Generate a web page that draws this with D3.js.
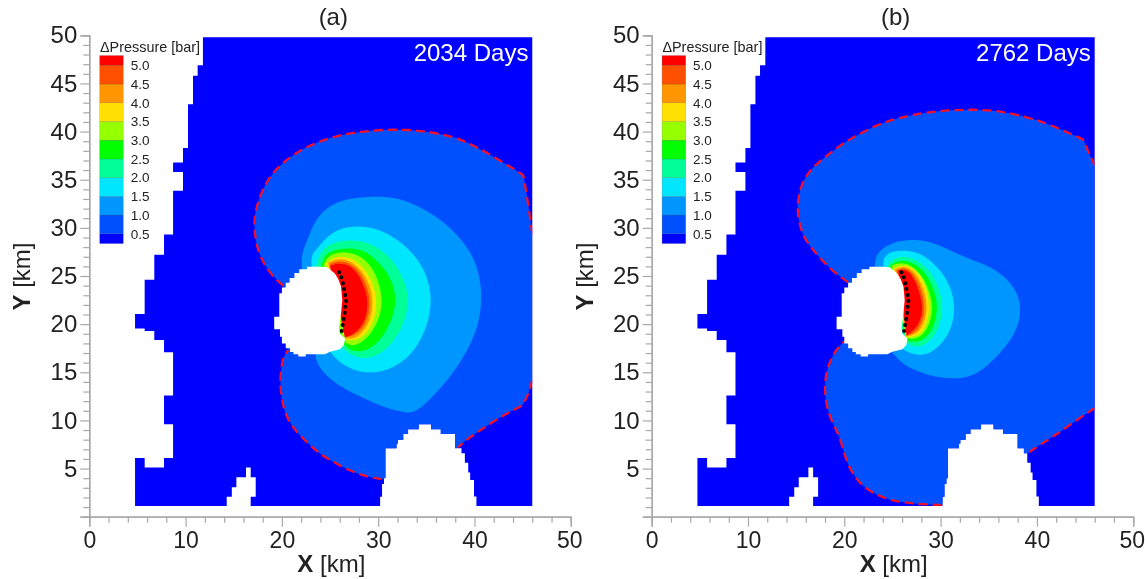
<!DOCTYPE html>
<html>
<head>
<meta charset="utf-8">
<script src="https://d3js.org/d3.v7.min.js"></script>
<style>
html, body { margin: 0; padding: 0; background: #fff; }
svg { display: block; filter: blur(0.35px); }
text { font-family: "Liberation Sans", Arial, sans-serif; fill: #222; }
</style>
</head>
<body>
<div class="chart"></div>
<script>
// all outlines are in km

const colorLevels = [0.5, 1.0, 1.5, 2.0, 2.5, 3.0, 3.5, 4.0, 4.5, 5.0];
const bandColors = ["#0000ff", "#0050ff", "#0096ff", "#00e6ff", "#00ff96", "#00ff00", "#96ff00", "#ffe000", "#ff9600", "#ff5000", "#ff0000"];
const legendLabels = ["0.5", "1.0", "1.5", "2.0", "2.5", "3.0", "3.5", "4.0", "4.5", "5.0"];
const legendExtent = [0.24, 5.26];

const panelTitles = ["(a)", "(b)"];
const dayLabels = ["2034 Days", "2762 Days"];
const xMajor = [0, 10, 20, 30, 40, 50];
const xMinor = [2, 4, 6, 8, 12, 14, 16, 18, 22, 24, 26, 28, 32, 34, 36, 38, 42, 44, 46, 48];
const yMajor = [0, 5, 10, 15, 20, 25, 30, 35, 40, 45, 50];
const yMinor = [1, 2, 3, 4, 6, 7, 8, 9, 11, 12, 13, 14, 16, 17, 18, 19, 21, 22, 23, 24, 26, 27, 28, 29, 31, 32, 33, 34, 36, 37, 38, 39, 41, 42, 43, 44, 46, 47, 48, 49];

// reservoir outline, same for both panels
const domainOutline = [[11.8,49.8],[11.8,46.9],[11.25,46.9],[11.25,45.8],[10.77,45.8],[10.77,42.85],[10.25,42.85],[10.25,38.3],[9.73,38.3],[9.73,36.8],[8.7,36.8],[8.7,35.8],[9.73,35.8],[9.73,33.85],[8.7,33.85],[8.7,29.3],[7.76,29.3],[7.76,27.2],[6.75,27.2],[6.75,24.6],[5.75,24.6],[5.75,21.05],[4.75,21.05],[4.75,19.55],[5.75,19.55],[5.75,19.3],[6.75,19.3],[6.75,18.35],[7.76,18.35],[7.76,17.07],[8.7,17.07],[8.7,12.6],[7.76,12.6],[7.76,9.6],[8.7,9.6],[8.7,6.1],[7.76,6.1],[7.76,5.1],[5.75,5.1],[5.75,6.1],[4.75,6.1],[4.75,1.1],[14.27,1.1],[14.27,2.08],[14.8,2.08],[14.8,3.05],[15.27,3.05],[15.27,4.1],[16.27,4.1],[16.27,5.1],[16.76,5.1],[16.76,4.1],[17.28,4.1],[17.28,2.08],[16.76,2.08],[16.76,1.1],[30.2,1.1],[30.2,2.08],[30.4,2.08],[30.4,3.4],[30.6,3.4],[30.6,4.0],[30.75,4.0],[30.75,7.1],[31.9,7.1],[31.9,7.6],[32.05,7.6],[32.05,8.0],[32.6,8.0],[32.6,8.6],[33.1,8.6],[33.1,9.07],[34.2,9.07],[34.2,9.6],[35.5,9.6],[35.5,9.07],[36.5,9.07],[36.5,8.6],[38.0,8.6],[38.0,7.1],[38.65,7.1],[38.65,6.6],[39.0,6.6],[39.0,5.6],[39.35,5.6],[39.35,4.6],[39.55,4.6],[39.55,3.8],[39.95,3.8],[39.95,2.1],[40.2,2.1],[40.2,1.1],[46,1.1],[46,49.8]];

const holeOutline = [[24.72,25.9],[25.5,25.27],[25.86,24.65],[26.14,23.9],[26.27,22.5],[26.14,21.1],[25.96,19.73],[26.03,19.04],[26.55,18.5],[26.45,17.83],[26.03,17.38],[25.0,17.14],[24.47,16.87],[22.47,16.87],[22.47,16.63],[21.7,16.63],[21.7,16.87],[21.2,16.87],[21.2,17.1],[20.84,17.1],[20.84,17.5],[20.4,17.5],[20.4,18.0],[20.0,18.0],[20.0,18.7],[19.8,18.7],[19.8,19.46],[19.2,19.46],[19.2,20.77],[19.73,20.77],[19.73,23.2],[20.0,23.2],[20.0,23.8],[20.4,23.8],[20.4,24.3],[20.8,24.3],[20.8,24.8],[21.3,24.8],[21.3,25.3],[21.8,25.3],[21.8,25.7],[22.6,25.7],[22.6,25.96],[23.96,25.96]];

const wellPoints = [[25.93,25.38],[26.17,24.86],[26.34,24.24],[26.45,23.64],[26.58,23.02],[26.66,22.4],[26.58,21.8],[26.52,21.18],[26.42,20.53],[26.31,19.9],[26.21,19.28]];

// panel (a): 0.5 bar front in pieces, cut by the hole and the southern hill
const aFrontUpper = [[20.15,23.99],[19.46,24.58],[18.76,25.34],[18.0,26.48],[17.38,28.04],[17.14,29.77],[17.14,31.15],[17.55,32.89],[18.24,34.44],[19.1,35.83],[20.5,37.1],[22.2,38.26],[24.3,39.12],[26.03,39.64],[28.1,39.98],[30.5,40.2],[32.96,40.2],[35.4,39.98],[37.8,39.46],[39.9,38.6],[42.3,37.2],[45.07,35.5],[45.07,35.5],[45.4,33.6],[45.76,31.15],[46,29.4]];
const aFrontRight = [[46,14.2],[45.6,12.64],[44.9,11.5],[44.9,11.5],[43,10.56],[40.9,9.18],[39.2,8.04],[38.3,7.2]];
const aFrontLower = [[30.36,3.9],[29.15,4.09],[27.77,4.5],[26.38,5.1],[25.0,5.9],[23.96,6.5],[22.75,7.6],[21.7,8.6],[20.84,9.7],[20.2,11.08],[19.9,12.8],[19.8,14.2],[20.0,15.9],[20.15,16.6],[20.66,17.3]];

const aLevel10 = [[22.05,25.96],[22.05,27.35],[22.58,28.56],[23.09,29.95],[23.96,31.5],[25.34,32.54],[27.07,33.07],[29.5,33.3],[31.9,33.17],[34.0,32.37],[36.07,31.15],[37.8,29.77],[39.53,27.7],[40.4,25.6],[40.8,23.2],[40.57,20.4],[39.53,17.65],[37.8,14.9],[35.7,12.46],[34.0,10.9],[32.96,10.74],[30.88,11.26],[28.45,12.3],[26.38,13.33],[24.65,14.54],[23.6,15.93],[23.44,16.97]];
const aLevel15 = [[23.09,25.96],[22.99,27.17],[23.78,27.97],[24.65,29.08],[26.03,29.95],[27.77,30.22],[29.84,29.95],[31.92,28.9],[33.65,27.35],[34.86,25.6],[35.55,23.2],[35.38,20.77],[34.5,18.35],[32.96,16.27],[30.88,15.16],[29.15,14.9],[27.4,15.2],[25.86,16.1],[25.0,17.14]];
const aLevel20 = [[23.54,25.96],[23.96,27.5],[25.0,28.4],[27.07,28.8],[29.15,28.45],[30.88,27.35],[32.26,25.6],[33.06,23.54],[33.13,21.8],[32.6,19.73],[31.2,17.65],[29.84,16.7],[28.45,16.34],[27.07,16.8],[26.2,17.65]];
const aLevel25 = [[24.13,25.96],[24.3,27.0],[25.17,27.7],[27.25,27.97],[28.97,27.5],[30.53,25.96],[31.57,24.24],[31.85,22.5],[31.57,20.77],[30.53,18.7],[29.33,17.5],[28.1,17.07],[27.07,17.3],[26.3,18.0]];
const aLevel30 = [[24.3,26.14],[24.8,27.17],[26.03,27.5],[27.6,27.4],[28.97,26.48],[30.0,24.75],[30.47,22.5],[30.18,20.77],[29.33,19.04],[28.1,17.93],[27.07,17.7],[26.38,18.3]];
const aLevel35 = [[24.58,26.3],[25.5,27.07],[27.07,27.0],[28.45,25.96],[29.5,24.24],[29.9,22.33],[29.6,20.43],[28.8,19.04],[27.77,18.28],[26.73,18.35]];
const aLevel40 = [[24.8,26.37],[25.7,26.83],[27.07,26.66],[28.28,25.6],[29.15,24.06],[29.5,22.33],[29.2,20.43],[28.45,19.2],[27.6,18.5],[26.65,18.5]];
const aLevel45 = [[25.0,26.24],[25.86,26.6],[27.07,26.37],[28.1,25.44],[28.87,23.9],[29.2,22.33],[28.97,20.6],[28.28,19.4],[27.4,18.77],[26.55,18.63]];
const aLevel50 = [[25.0,26.07],[25.86,26.37],[27.07,26.14],[27.94,25.2],[28.63,23.72],[28.97,22.33],[28.73,20.6],[28.04,19.46],[27.25,18.87],[26.55,18.63]];

// panel (b)
const bFrontUpper = [[20.4,24.34],[18.86,25.44],[17.65,26.66],[16.6,27.87],[15.75,29.08],[15.33,30.47],[15.12,31.85],[15.22,33.4],[15.75,34.96],[16.6,36.18],[17.82,37.2],[19.55,38.6],[21.63,39.8],[23.7,40.85],[26.13,41.54],[28.56,42.0],[30.98,42.23],[33.4,42.3],[35.8,42.17],[38.25,41.7],[40.67,41.0],[42.74,40.1],[44.8,39.2],[44.8,39.2],[45.34,37.9],[46,36.5]];
const bFrontRight = [[46,11.3],[44.14,10.04],[42.05,8.55],[40.3,7.45],[39.0,6.58]];
const bFrontLower = [[30.1,1.2],[28.2,1.29],[26.3,1.46],[24.75,1.73],[23.37,2.25],[21.97,3.1],[20.93,4.33],[20.25,5.7],[19.8,7.27],[19.38,8.66],[18.7,9.86],[18.17,11.4],[17.93,13.15],[18.1,15.06],[18.7,16.6],[19.38,17.65],[20.07,18.25]];

const bLevel10 = [[23.19,25.96],[23.19,26.83],[23.7,27.7],[24.92,28.45],[26.48,28.8],[28.56,28.66],[30.28,28.04],[32.36,27.0],[34.79,26.14],[36.5,25.1],[37.73,23.72],[38.32,22.16],[38.25,20.43],[37.55,18.7],[36.17,16.97],[34.79,15.58],[33.23,14.54],[31.32,14.3],[29.24,14.54],[27.17,15.23],[25.78,16.1],[24.92,17.14]];
const bLevel15 = [[24.05,25.96],[24.05,26.83],[24.57,27.4],[25.78,27.7],[27.52,27.52],[28.9,26.73],[30.28,25.27],[31.15,23.54],[31.5,21.8],[31.26,19.9],[30.46,18.35],[29.24,17.14],[28.04,16.72],[26.82,16.97],[25.96,17.49]];
const bLevel20 = [[24.46,26.03],[24.92,26.73],[25.96,27.07],[27.34,26.83],[28.72,25.8],[29.76,24.06],[30.28,21.98],[30.0,20.08],[29.24,18.53],[28.2,17.72],[27.17,17.6],[26.3,18.17]];
const bLevel25 = [[24.75,26.03],[25.27,26.48],[26.3,26.66],[27.68,26.14],[28.72,24.92],[29.42,23.2],[29.7,21.8],[29.42,20.08],[28.72,18.77],[27.68,18.07],[26.48,18.28]];
const bLevel30 = [[24.92,26.07],[25.78,26.42],[27.0,26.14],[28.2,24.92],[28.97,23.02],[29.18,21.64],[28.9,20.08],[28.2,18.87],[27.34,18.42],[26.4,18.53]];
const bLevel35 = [[25.1,25.8],[26.3,26.24],[27.52,25.6],[28.38,24.24],[28.8,22.5],[28.83,21.12],[28.38,19.56],[27.68,18.77],[26.48,18.63]];
const bLevel40 = [[25.27,25.69],[26.3,26.07],[27.24,25.55],[28.14,24.06],[28.56,22.33],[28.56,21.12],[28.14,19.73],[27.45,18.97],[26.48,18.7]];
const bLevel45 = [[25.44,25.6],[26.3,25.9],[27.1,25.34],[27.94,23.9],[28.3,22.16],[28.3,21.12],[27.94,19.8],[27.24,19.1],[26.48,18.77]];
const bLevel50 = [[25.6,25.55],[26.3,25.72],[27.0,25.2],[27.68,23.72],[28.1,22.09],[28.1,21.12],[27.68,19.9],[27.1,19.3],[26.48,18.84]];

const aLevels = [aLevel10, aLevel15, aLevel20, aLevel25, aLevel30, aLevel35, aLevel40, aLevel45, aLevel50];
const bLevels = [bLevel10, bLevel15, bLevel20, bLevel25, bLevel30, bLevel35, bLevel40, bLevel45, bLevel50];

const svg = d3.select(".chart")
              .append("svg")
              .attr("width", 1145)
              .attr("height", 579);

function drawPanel(id, left, title, days, front, levels) {
  const x = d3.scaleLinear().domain([0, 50]).range([left, left + 481.5]);
  const y = d3.scaleLinear().domain([0, 50]).range([516.7, 35.3]);

  const rawPath = d3.line().x(d => x(d[0])).y(d => y(d[1]));
  const smoothPath = d3.line().x(d => x(d[0])).y(d => y(d[1])).curve(d3.curveBasis);

  const g = svg.append("g").attr("class", "panel-" + id);

  g.append("clipPath")
   .attr("id", "clip-" + id)
   .append("path")
   .attr("d", rawPath(domainOutline) + "Z");

  g.append("path")
   .attr("d", rawPath(domainOutline) + "Z")
   .attr("fill", bandColors[0]);

  const field = g.append("g").attr("clip-path", "url(#clip-" + id + ")");

  // first band, closed across the hill and the hole
  const frontFill = smoothPath(front.upper)
    + "L" + smoothPath(front.right).slice(1)
    + "L" + smoothPath(front.lower).slice(1) + "Z";
  field.append("path").attr("d", frontFill).attr("fill", bandColors[1]);

  field.selectAll(".band")
       .data(levels)
       .enter()
       .append("path")
       .attr("class", "band")
       .attr("d", d => smoothPath(d) + "Z")
       .attr("fill", (d, i) => bandColors[i + 2]);

  field.selectAll(".front")
       .data([front.upper, front.right, front.lower])
       .enter()
       .append("path")
       .attr("class", "front")
       .attr("d", d => smoothPath(d))
       .attr("fill", "none")
       .attr("stroke", "#f0102a")
       .attr("stroke-width", 2.3)
       .attr("stroke-dasharray", "9 5");

  g.append("path")
   .attr("d", rawPath(holeOutline) + "Z")
   .attr("fill", "#fff");

  g.selectAll(".well")
   .data(wellPoints)
   .enter()
   .append("circle")
   .attr("class", "well")
   .attr("cx", d => x(d[0]))
   .attr("cy", d => y(d[1]))
   .attr("r", 2)
   .attr("fill", "#000");

  // axes
  const xMinorAxis = g.append("g")
    .attr("transform", "translate(0, " + y(0) + ")")
    .call(d3.axisBottom(x).tickValues(xMinor).tickSize(6).tickFormat(""));
  const xMajorAxis = g.append("g")
    .attr("transform", "translate(0, " + y(0) + ")")
    .call(d3.axisBottom(x).tickValues(xMajor).tickSize(10).tickPadding(5).tickFormat(d3.format("d")));
  const yMinorAxis = g.append("g")
    .attr("transform", "translate(" + x(0) + ", 0)")
    .call(d3.axisLeft(y).tickValues(yMinor).tickSize(6).tickFormat(""));
  const yMajorAxis = g.append("g")
    .attr("transform", "translate(" + x(0) + ", 0)")
    .call(d3.axisLeft(y).tickValues(yMajor).tickSize(9).tickPadding(3).tickFormat(d => d === 0 ? "" : d));

  [xMinorAxis, xMajorAxis, yMinorAxis, yMajorAxis].forEach(a => {
    a.selectAll("path").attr("stroke", "#a8a8a8").attr("stroke-width", 1.3);
    a.selectAll("line").attr("stroke", "#a8a8a8").attr("stroke-width", 1.2);
    a.selectAll("text").style("font-size", "24px").attr("fill", "#222").style("font-family", "Liberation Sans");
  });

  // the last x label sits close to the page edge
  xMajorAxis.selectAll("text")
    .style("font-size", "23px")
    .attr("dx", d => d === 50 ? -1.5 : 0);

  // titles
  g.append("text").text(title)
   .attr("x", left + 244).attr("y", 25)
   .attr("text-anchor", "middle")
   .style("font-size", "24px");

  g.append("text").text(days)
   .attr("x", x(45.6)).attr("y", 61)
   .attr("text-anchor", "end")
   .style("font-size", "24px")
   .style("fill", "#fff");

  const xLabel = g.append("text")
   .attr("x", left + 242).attr("y", 572)
   .attr("text-anchor", "middle")
   .style("font-size", "24px");
  xLabel.append("tspan").text("X").style("font-weight", "bold");
  xLabel.append("tspan").text(" [km]");

  const yLabel = g.append("text")
   .attr("transform", "translate(" + (left - 59) + ", 276.5) rotate(-90)")
   .attr("text-anchor", "middle")
   .style("font-size", "24px");
  yLabel.append("tspan").text("Y").style("font-weight", "bold");
  yLabel.append("tspan").text(" [km]");

  // legend
  const legendY = d3.scaleLinear().domain([0.5, 5]).range([233.8, 65.3]);
  const legendX = left + 10.4;
  const edges = [legendExtent[0]].concat(colorLevels, [legendExtent[1]]);

  g.selectAll(".swatch")
   .data(bandColors)
   .enter()
   .append("rect")
   .attr("class", "swatch")
   .attr("x", legendX)
   .attr("width", 23.6)
   .attr("y", (d, i) => legendY(edges[i + 1]))
   .attr("height", (d, i) => legendY(edges[i]) - legendY(edges[i + 1]))
   .attr("fill", d => d)
   .attr("stroke", "#000")
   .attr("stroke-opacity", 0.2)
   .attr("stroke-width", 0.6);

  g.selectAll(".legend-label")
   .data(legendLabels)
   .enter()
   .append("text")
   .attr("class", "legend-label")
   .text(d => d)
   .attr("x", legendX + 31)
   .attr("y", d => legendY(+d) + 4.8)
   .style("font-size", "13.5px");

  g.append("text").text("ΔPressure [bar]")
   .attr("x", legendX + 0.3).attr("y", 51.5)
   .style("font-size", "14.4px");
}

drawPanel("a", 89.3, panelTitles[0], dayLabels[0], {upper: aFrontUpper, right: aFrontRight, lower: aFrontLower}, aLevels);
drawPanel("b", 651.7, panelTitles[1], dayLabels[1], {upper: bFrontUpper, right: bFrontRight, lower: bFrontLower}, bLevels);
</script>
</body>
</html>
